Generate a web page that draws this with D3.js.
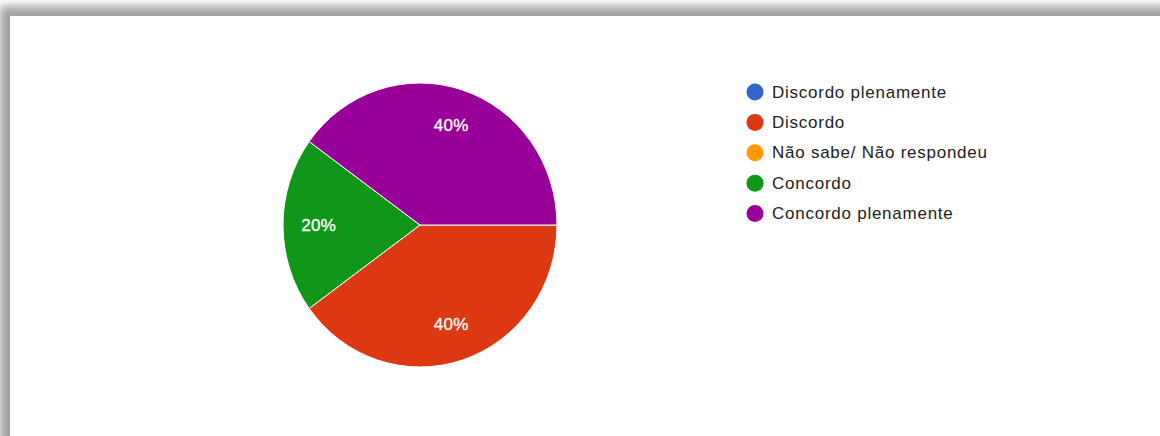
<!DOCTYPE html>
<html>
<head>
<meta charset="utf-8">
<script src="https://cdn.jsdelivr.net/npm/d3@7"></script>
<style>
  html, body { margin: 0; padding: 0; background: #ffffff; }
  svg { display: block; }
</style>
</head>
<body>
<svg id="chart" width="1160" height="436"></svg>
<script>
// Survey answers (percent of respondents)
const categories = [
  "Discordo plenamente",
  "Discordo",
  "Não sabe/ Não respondeu",
  "Concordo",
  "Concordo plenamente"
];
const values = [0, 40, 0, 20, 40];
const colors = ["#3366cc", "#dc3912", "#ff9900", "#109618", "#990099"];

const W = 1160, H = 436;
const svg = d3.select("#chart");

// Panel with a soft shadow along its top and left edges
const defs = svg.append("defs");
const blur = defs.append("filter").attr("id", "panelShadow")
  .attr("filterUnits", "userSpaceOnUse")
  .attr("x", -60).attr("y", -60).attr("width", W + 200).attr("height", H + 200);
blur.append("feGaussianBlur").attr("stdDeviation", 5);

svg.append("rect").attr("width", W).attr("height", H).attr("fill", "#ffffff");
svg.append("rect")
  .attr("x", 0).attr("y", 6).attr("width", W + 40).attr("height", H + 40)
  .attr("fill", "#a0a0a0")
  .attr("filter", "url(#panelShadow)");
svg.append("rect")
  .attr("x", 10).attr("y", 16).attr("width", W).attr("height", H)
  .attr("fill", "#ffffff");

// Pie
const cx = 420, cy = 225, r = 137, yStretch = 142 / 137;
const data = categories.map((c, i) => ({ name: c, value: values[i], color: colors[i] }));

const pie = d3.pie().sort(null).value(d => d.value)
  .startAngle(Math.PI / 2).endAngle(Math.PI / 2 + 2 * Math.PI);
const arcs = pie(data);
const arc = d3.arc().innerRadius(0).outerRadius(r);
const labelArc = d3.arc().innerRadius(r * 0.74).outerRadius(r * 0.74);

const g = svg.append("g")
  .attr("transform", `translate(${cx},${cy}) scale(1,${yStretch})`);
g.selectAll("path.slice")
  .data(arcs.filter(d => d.data.value > 0))
  .join("path")
  .attr("class", "slice")
  .attr("d", arc)
  .attr("fill", d => d.data.color)
  .attr("stroke", "#ffffff")
  .attr("stroke-width", 1)
  .attr("vector-effect", "non-scaling-stroke");

const total = d3.sum(values);
svg.append("g").selectAll("text")
  .data(arcs.filter(d => d.data.value > 0))
  .join("text")
  .attr("x", d => cx + labelArc.centroid(d)[0])
  .attr("y", d => cy + labelArc.centroid(d)[1] * yStretch)
  .attr("text-anchor", "middle")
  .attr("dominant-baseline", "central")
  .attr("font-family", "'Liberation Sans', Arial, sans-serif")
  .attr("font-size", 17)
  .attr("letter-spacing", 0.3)
  .attr("fill", "#ffffff")
  .attr("stroke", "#ffffff")
  .attr("stroke-width", 0.3)
  .text(d => Math.round(d.data.value / total * 100) + "%");

// Legend
const legendY = d3.scalePoint().domain(categories).range([92, 213.5]);
const legend = svg.append("g");
const rows = legend.selectAll("g")
  .data(data)
  .join("g")
  .attr("transform", d => `translate(0,${legendY(d.name)})`);
rows.append("circle")
  .attr("cx", 755).attr("cy", 0).attr("r", 8.5)
  .attr("fill", d => d.color);
rows.append("text")
  .attr("x", 772).attr("y", 0)
  .attr("dominant-baseline", "central")
  .attr("font-family", "'Liberation Sans', Arial, sans-serif")
  .attr("font-size", 17)
  .attr("letter-spacing", 0.75)
  .attr("fill", "#222222")
  .text(d => d.name);
</script>
</body>
</html>
